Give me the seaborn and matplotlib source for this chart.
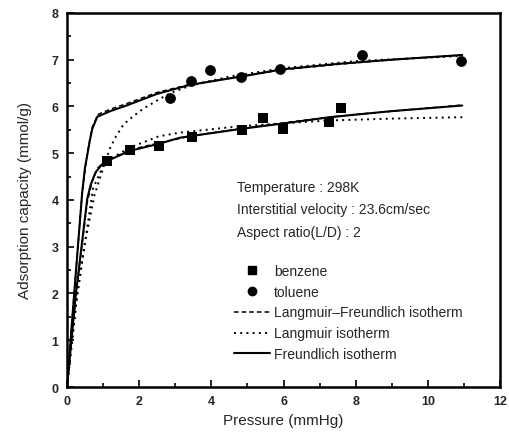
import numpy as np
import pandas as pd
import matplotlib
matplotlib.use("Agg")
import matplotlib.pyplot as plt
from matplotlib.ticker import MultipleLocator
import seaborn as sns

# measured points
benzene_p = [1.10, 1.74, 2.54, 3.46, 4.85, 5.42, 5.98, 7.27, 7.60]
benzene_q = [4.83, 5.07, 5.16, 5.35, 5.50, 5.75, 5.52, 5.67, 5.96]
toluene_p = [2.85, 3.43, 3.96, 4.83, 5.91, 8.16, 10.91]
toluene_q = [6.17, 6.55, 6.77, 6.62, 6.80, 7.10, 6.97]

# fitted isotherm curves
tol_lf_p = [0, 0.20, 0.42, 0.56, 0.70, 0.86, 1.20, 1.65, 2.50, 3.40, 4.83, 5.93, 7.50, 9.00, 10.95]
tol_lf_q = [0, 2.00, 4.15, 5.00, 5.56, 5.83, 5.94, 6.06, 6.30, 6.47, 6.64, 6.78, 6.90, 7.00, 7.10]
tol_l_p = [0, 0.28, 0.50, 0.76, 0.97, 1.10, 1.20, 1.35, 1.57, 1.85, 2.11, 2.57, 2.85, 3.40, 4.50, 6.00, 8.00, 10.95]
tol_l_q = [0, 1.95, 3.10, 4.10, 4.60, 4.90, 5.12, 5.35, 5.62, 5.80, 5.95, 6.16, 6.28, 6.44, 6.64, 6.82, 6.97, 7.08]
tol_f_p = [0, 0.20, 0.42, 0.50, 0.56, 0.64, 0.70, 0.84, 1.20, 1.65, 2.50, 3.40, 4.83, 5.93, 7.50, 9.00, 10.95]
tol_f_q = [0, 2.00, 4.15, 4.70, 4.95, 5.30, 5.52, 5.78, 5.90, 6.02, 6.27, 6.46, 6.64, 6.79, 6.91, 7.00, 7.10]

ben_lf_p = [0, 0.24, 0.56, 0.70, 0.85, 1.00, 1.74, 2.54, 3.46, 4.83, 6.62, 8.00, 10.95]
ben_lf_q = [0, 1.90, 3.95, 4.40, 4.68, 4.80, 5.07, 5.22, 5.37, 5.53, 5.71, 5.83, 6.03]
ben_l_p = [0, 0.28, 0.72, 0.88, 1.00, 1.20, 1.74, 2.54, 3.12, 4.83, 6.62, 7.27, 9.00, 10.95]
ben_l_q = [0, 1.95, 4.24, 4.52, 4.72, 4.88, 5.12, 5.36, 5.44, 5.58, 5.67, 5.70, 5.74, 5.77]
ben_f_p = [0, 0.24, 0.56, 0.65, 0.79, 0.98, 1.10, 1.74, 2.54, 3.12, 3.46, 4.83, 6.62, 7.27, 9.00, 10.95]
ben_f_q = [0, 1.95, 4.02, 4.31, 4.59, 4.77, 4.83, 5.05, 5.20, 5.33, 5.37, 5.52, 5.70, 5.77, 5.90, 6.02]

info_lines = ["Temperature : 298K", "Interstitial velocity : 23.6cm/sec", "Aspect ratio(L/D) : 2"]


def main():
    sns.set_style("ticks")
    plt.rcParams['font.family'] = ['Liberation Sans', 'DejaVu Sans']

    fig = plt.figure(figsize=(5.09, 4.35), dpi=100)
    ax = fig.add_axes([0.1316, 0.108, 0.851, 0.86])

    styles = {
        "lf": dict(color="black", linestyle=(0, (3, 2)), linewidth=1.1),
        "l": dict(color="black", linestyle=(0, (1, 2.2)), linewidth=1.4),
        "f": dict(color="black", linestyle="-", linewidth=1.5),
    }
    curves = [
        (tol_lf_p, tol_lf_q, "lf"), (tol_l_p, tol_l_q, "l"), (tol_f_p, tol_f_q, "f"),
        (ben_lf_p, ben_lf_q, "lf"), (ben_l_p, ben_l_q, "l"), (ben_f_p, ben_f_q, "f"),
    ]
    for p, q, kind in curves:
        sns.lineplot(x=p, y=q, ax=ax, sort=False, estimator=None, **styles[kind])

    sns.scatterplot(x=benzene_p, y=benzene_q, ax=ax, marker="s", s=60,
                    color="black", edgecolor="black", linewidth=0, zorder=5)
    sns.scatterplot(x=toluene_p, y=toluene_q, ax=ax, marker="o", s=60,
                    color="black", edgecolor="black", linewidth=0, zorder=5)

    ax.set_xlim(0, 12)
    ax.set_ylim(0, 8)
    ax.xaxis.set_major_locator(MultipleLocator(2))
    ax.xaxis.set_minor_locator(MultipleLocator(1))
    ax.yaxis.set_major_locator(MultipleLocator(1))
    ax.yaxis.set_minor_locator(MultipleLocator(0.5))
    ax.tick_params(which="both", direction="in", top=False, right=False,
                   width=1.2, color="black")
    ax.tick_params(which="major", length=5, labelsize=9, pad=6)
    ax.tick_params(which="minor", length=3)
    for lab in ax.get_xticklabels() + ax.get_yticklabels():
        lab.set_fontweight("bold")
    for sp in ax.spines.values():
        sp.set_linewidth(1.8)
        sp.set_color("black")

    ax.set_xlabel("Pressure (mmHg)", fontsize=11, labelpad=4)
    ax.set_ylabel("Adsorption capacity (mmol/g)", fontsize=11, labelpad=14)

    for i, txt in enumerate(info_lines):
        ax.text(4.7, 4.28 - i * 0.48, txt, fontsize=10, va="center", ha="left")

    handles = [
        plt.Line2D([], [], marker="s", linestyle="none", color="black", markersize=6),
        plt.Line2D([], [], marker="o", linestyle="none", color="black", markersize=6),
        plt.Line2D([], [], **styles["lf"]),
        plt.Line2D([], [], **styles["l"]),
        plt.Line2D([], [], **styles["f"]),
    ]
    labels = ["benzene", "toluene", "Langmuir\u2013Freundlich isotherm",
              "Langmuir isotherm", "Freundlich isotherm"]
    ax.legend(handles, labels, loc="upper left", bbox_to_anchor=(0.385, 0.33),
              frameon=False, fontsize=10, handlelength=2.6, handletextpad=0.3,
              labelspacing=0.5, borderaxespad=0, borderpad=0)

    fig.savefig("out.png", dpi=100)


if __name__ == "__main__":
    main()
